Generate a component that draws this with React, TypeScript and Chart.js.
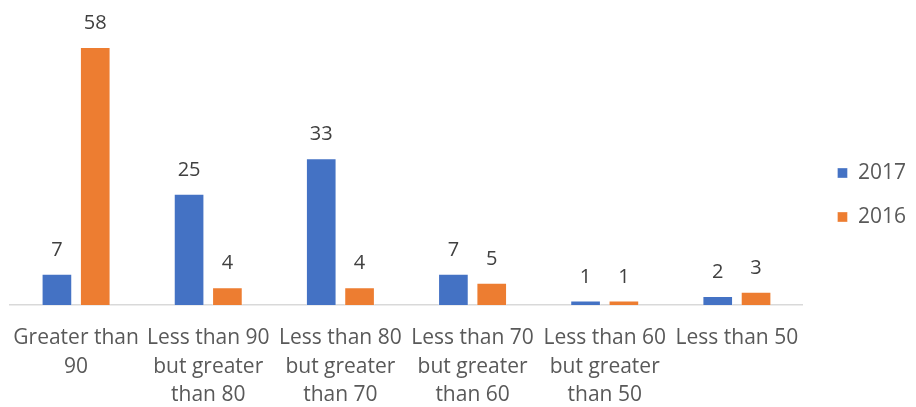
import React, { useEffect, useRef } from "react";
import { Chart, registerables } from "chart.js";

Chart.register(...registerables);

const categories: string[][] = [
  ["Greater than", "90"],
  ["Less than 90", "but greater", "than 80"],
  ["Less than 80", "but greater", "than 70"],
  ["Less than 70", "but greater", "than 60"],
  ["Less than 60", "but greater", "than 50"],
  ["Less than 50"],
];
const values2017: number[] = [7, 25, 33, 7, 1, 2];
const values2016: number[] = [58, 4, 4, 5, 1, 3];
const seriesNames = ["2017", "2016"];

const FONT = "'Open Sans', sans-serif";

const dataLabels = {
  id: "dataLabels",
  afterDatasetsDraw(chart: any) {
    const ctx = chart.ctx;
    ctx.save();
    ctx.font = `20px ${FONT}`;
    ctx.fillStyle = "#404040";
    ctx.textAlign = "center";
    ctx.textBaseline = "alphabetic";
    chart.data.datasets.forEach((ds: any, di: number) => {
      const meta = chart.getDatasetMeta(di);
      meta.data.forEach((bar: any, i: number) => {
        ctx.fillText(String(ds.data[i]), bar.x, bar.y - 18);
      });
    });
    ctx.restore();
  },
};

export default function App() {
  const ref = useRef<HTMLCanvasElement>(null);
  useEffect(() => {
    if (!ref.current) return;
    const chart = new Chart(ref.current, {
      type: "bar",
      data: {
        labels: categories,
        datasets: [
          {
            label: seriesNames[0],
            data: values2017,
            backgroundColor: "#4472C4",
            borderColor: "rgba(255,255,255,0.35)",
            borderWidth: 1,
            categoryPercentage: 0.58,
            barPercentage: 0.8,
          },
          {
            label: seriesNames[1],
            data: values2016,
            backgroundColor: "#ED7D31",
            borderColor: "rgba(255,255,255,0.35)",
            borderWidth: 1,
            categoryPercentage: 0.58,
            barPercentage: 0.8,
          },
        ],
      },
      options: {
        animation: false,
        responsive: false,
        layout: { padding: { top: 47, left: 10, right: 0, bottom: 0 } },
        scales: {
          x: {
            grid: { display: false, drawTicks: false },
            border: { display: true, color: "#D9D9D9", width: 1.5 },
            ticks: {
              autoSkip: false,
              maxRotation: 0,
              padding: 19,
              color: "#595959",
              font: { family: FONT, size: 21, lineHeight: 1.35 },
            },
            afterFit: (s: any) => {
              s.height = 102;
              s.paddingLeft = 0;
              s.paddingRight = 0;
            },
          },
          y: {
            position: "right",
            min: 0,
            max: 58,
            grid: { display: false, drawTicks: false },
            border: { display: false },
            ticks: { display: false },
            afterFit: (s: any) => {
              s.width = 11.5;
            },
          },
        },
        plugins: {
          tooltip: { enabled: false },
          legend: {
            position: "right",
            fullSize: false,
            title: {
              display: true,
              text: "",
              font: { size: 10, lineHeight: 1.2 },
              padding: { top: 26, bottom: 0 },
            },
            labels: {
              boxWidth: 10,
              boxHeight: 10,
              padding: 23,
              color: "#595959",
              font: { family: FONT, size: 21 },
            },
          },
        },
      },
      plugins: [dataLabels],
    });
    return () => chart.destroy();
  }, []);
  return (
    <div style={{ position: "absolute", left: 0, top: 0, width: 916, height: 407, background: "#fff" }}>
      <canvas ref={ref} width={916} height={407} />
    </div>
  );
}
